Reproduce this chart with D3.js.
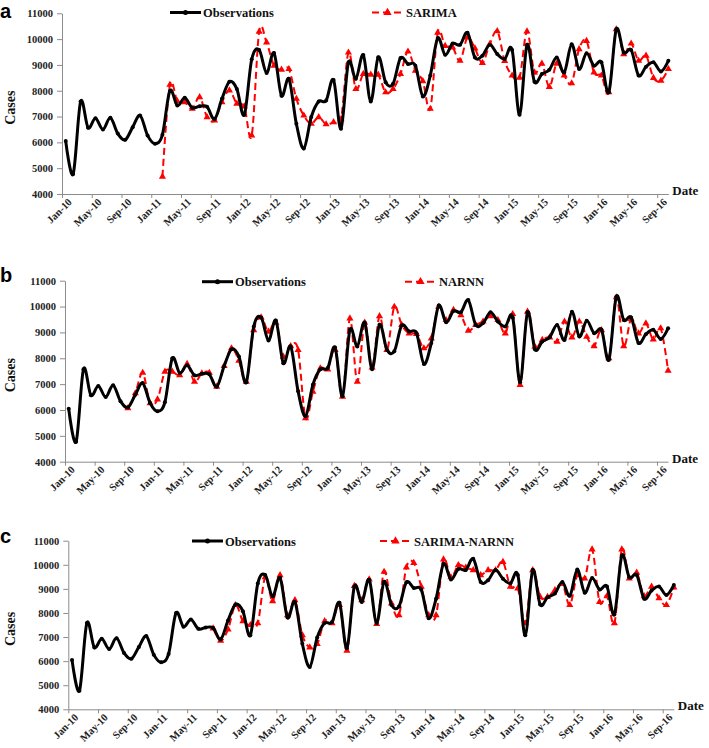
<!DOCTYPE html>
<html>
<head>
<meta charset="utf-8">
<script src="https://cdn.jsdelivr.net/npm/d3@7"></script>
<style>
  body { margin: 0; background: #fff; }
  svg { display: block; }
  .tick text { font-family: "Liberation Serif", "Times New Roman", serif; font-weight: bold; font-size: 10.5px; fill: #222; }
  .label-style { font-family: "Liberation Serif", "Times New Roman", serif; font-weight: bold; fill: #111; }
  .panel-letter { font-family: "Liberation Sans", Arial, sans-serif; font-weight: bold; font-size: 20px; fill: #000; }
</style>
</head>
<body>
<div id="chart"></div>
<script>
// month ticks (every 4 months)
const tickLabels = ['Jan-10', 'May-10', 'Sep-10', 'Jan-11', 'May-11', 'Sep-11', 'Jan-12', 'May-12', 'Sep-12',
  'Jan-13', 'May-13', 'Sep-13', 'Jan-14', 'May-14', 'Sep-14', 'Jan-15', 'May-15', 'Sep-15', 'Jan-16', 'May-16', 'Sep-16'];
const yTicks = [4000, 5000, 6000, 7000, 8000, 9000, 10000, 11000];

// monthly cases, Jan-10 .. Oct-16
const observations = [6050, 4770, 7580, 6570, 6930, 6500, 6955, 6340, 6100, 6590,
  7040, 6270, 5950, 6300, 8000, 7430, 7730, 7340, 7400, 7380,
  6900, 7690, 8350, 8070, 7070, 9220, 9580, 8690, 9460, 7810,
  8460, 6720, 5760, 6980, 7580, 7620, 8420, 6530, 9100, 8460,
  9380, 7580, 9300, 8330, 8270, 9270, 9040, 8970, 7780, 8590,
  10040, 9390, 9830, 9780, 10250, 9290, 9360, 9780, 9420, 9230,
  9580, 7070, 9780, 8350, 8650, 8810, 9290, 8710, 9800, 8840,
  9450, 8970, 9100, 7940, 10380, 9480, 9580, 8590, 8930, 9100,
  8750, 9160];

// SARIMA starts Feb-11
const sarimaStart = 13;
const sarima = [4670, 8230, 7600, 7560, 7300, 7750, 6980,
  6850, 7560, 8010, 7500, 7390, 6270, 10290, 9870, 8970, 8820,
  8840, 7690, 7040, 6720, 6980, 6700, 6780, 6900, 9480, 8070,
  8650, 8620, 8620, 7940, 8070, 8650, 9520, 8780, 8370, 7300,
  10250, 9740, 9680, 9160, 10060, 9640, 9080, 9810, 10310, 9150,
  8590, 8510, 10300, 8710, 9050, 8150, 9050, 8590, 8290, 9610,
  9930, 8710, 8590, 7940, 10380, 9420, 9830, 9160, 9360, 8500,
  8390, 8840];

// NARNN starts Sep-10
const narnnStart = 8;
const narnn = [6065, 6645,
  7440, 6260, 6410, 7480, 7480, 7350, 7780, 7090, 7420, 7440,
  6900, 7700, 8385, 7905, 7090, 9090, 9580, 9030, 9380, 8060,
  8470, 8320, 5680, 6710, 7610, 7570, 8320, 6510, 9540, 7090,
  9380, 7650, 9630, 8320, 9990, 9290, 8960, 8940, 8385, 8770,
  9990, 9480, 9870, 9670, 9070, 9290, 9420, 9630, 9480, 8960,
  9710, 6970, 9800, 8450, 8710, 8810, 8640, 9420, 8810, 9420,
  8830, 8470, 9090, 8000, 10360, 8470, 9510, 8960, 9350, 8730,
  9160, 7520];

// SARIMA-NARNN starts Aug-11
const hybridStart = 19;
const hybrid = [7360,
  6850, 7320, 8330, 7660, 7500, 7570, 9480, 8490, 9570, 7910,
  8530, 7080, 6570, 6710, 7660, 7570, 8330, 6430, 9120, 8530,
  9390, 7540, 9710, 8400, 7910, 9890, 10080, 9090, 7910, 7910,
  10220, 9480, 9990, 9880, 9780, 9570, 9780, 9780, 10120, 9090,
  9020, 7570, 9780, 8670, 8670, 8950, 9200, 8330, 9570, 9430,
  10640, 8460, 8700, 7570, 10640, 9430, 9670, 8700, 9090, 8610,
  8330, 9060];

const panels = [
  {letter: 'a', name: 'SARIMA', values: sarima, start: sarimaStart,
   left: 62, top: 13.3, bottom: 194, step: 7.44, letterY: 18, legendY: 12.5, obsLeg: 170, modLeg: 372},
  {letter: 'b', name: 'NARNN', values: narnn, start: narnnStart,
   left: 65, top: 280.7, bottom: 461.7, step: 7.40, letterY: 281.5, legendY: 281.7, obsLeg: 202, modLeg: 405},
  {letter: 'c', name: 'SARIMA-NARNN', values: hybrid, start: hybridStart,
   left: 68.3, top: 540.7, bottom: 709.3, step: 7.43, letterY: 542.5, legendY: 541, obsLeg: 192, modLeg: 380}
];

const svg = d3.select('#chart').append('svg')
    .attr('width', 709)
    .attr('height', 748);

panels.forEach(p => drawPanel(p));

function drawPanel(p) {
  const n = observations.length;
  const x = d3.scaleLinear()
      .domain([0, n - 0.5])
      .range([p.left, p.left + (n - 0.5) * p.step]);
  const y = d3.scaleLinear()
      .domain([4000, 11000])
      .range([p.bottom, p.top]);

  const g = svg.append('g');

  // Y Axis
  g.append('g')
      .attr('transform', 'translate(' + p.left + ',0)')
      .call(d3.axisLeft(y).tickValues(yTicks).tickFormat(d3.format('d'))
        .tickSize(5).tickPadding(4).tickSizeOuter(0))
      .call(a => a.selectAll('line, path').attr('stroke', '#8c8c8c'));

  // X Axis
  g.append('g')
      .attr('transform', 'translate(0,' + p.bottom + ')')
      .call(d3.axisBottom(x)
        .tickValues(d3.range(0, tickLabels.length * 4, 4))
        .tickFormat((d, i) => tickLabels[i])
        .tickSize(4).tickSizeOuter(0))
      .call(a => a.selectAll('line, path').attr('stroke', '#8c8c8c'))
      .selectAll('text')
        .style('text-anchor', 'end')
        .attr('x', 1)
        .attr('y', 8)
        .attr('dy', '.5em')
        .attr('transform', 'rotate(-45)');

  // axis titles
  g.append('text')
      .attr('class', 'label-style')
      .attr('x', x(n - 0.5) + 4)
      .attr('y', p.bottom + 1)
      .style('font-size', '13px')
      .text('Date');
  g.append('text')
      .attr('class', 'label-style')
      .attr('transform', 'translate(15,' + ((p.top + p.bottom) / 2 + 4) + ') rotate(-90)')
      .attr('text-anchor', 'middle')
      .style('font-size', '14px')
      .text('Cases');

  g.append('text')
      .attr('class', 'panel-letter')
      .attr('x', 0)
      .attr('y', p.letterY)
      .text(p.letter);

  const line = d3.line()
      .x(d => x(d.i + 0.5))
      .y(d => y(d.v))
      .curve(d3.curveCardinal.tension(0));

  const obs = observations.map((v, i) => ({i: i, v: v}));
  const model = p.values.map((v, k) => ({i: p.start + k, v: v}));

  // model (red dashed)
  g.append('path')
      .datum(model)
      .attr('fill', 'none')
      .attr('stroke', '#ff0000')
      .attr('stroke-width', 2)
      .attr('stroke-dasharray', '7,4')
      .attr('d', line);
  const tri = d3.symbol().type(d3.symbolTriangle).size(22);
  g.selectAll('.mk-model')
    .data(model)
    .enter().append('path')
      .attr('class', 'mk-model')
      .attr('fill', '#ff0000')
      .attr('transform', d => 'translate(' + x(d.i + 0.5) + ',' + y(d.v) + ')')
      .attr('d', tri);

  // observations (black)
  g.append('path')
      .datum(obs)
      .attr('fill', 'none')
      .attr('stroke', '#000')
      .attr('stroke-width', 3)
      .attr('stroke-linejoin', 'round')
      .attr('d', line);
  g.selectAll('.mk-obs')
    .data(obs)
    .enter().append('circle')
      .attr('class', 'mk-obs')
      .attr('cx', d => x(d.i + 0.5))
      .attr('cy', d => y(d.v))
      .attr('r', 2)
      .attr('fill', '#000');

  // legend
  const ly = p.legendY;
  g.append('line')
      .attr('x1', p.obsLeg).attr('x2', p.obsLeg + 31)
      .attr('y1', ly).attr('y2', ly)
      .attr('stroke', '#000').attr('stroke-width', 3);
  g.append('circle')
      .attr('cx', p.obsLeg + 15.5).attr('cy', ly).attr('r', 2.5).attr('fill', '#000');
  g.append('text')
      .attr('class', 'label-style')
      .attr('x', p.obsLeg + 33)
      .attr('y', ly + 4.5)
      .style('font-size', '12.5px')
      .text('Observations');

  g.append('line')
      .attr('x1', p.modLeg).attr('x2', p.modLeg + 31)
      .attr('y1', ly).attr('y2', ly)
      .attr('stroke', '#ff0000').attr('stroke-width', 2)
      .attr('stroke-dasharray', '7,4');
  g.append('path')
      .attr('fill', '#ff0000')
      .attr('transform', 'translate(' + (p.modLeg + 15.5) + ',' + ly + ')')
      .attr('d', d3.symbol().type(d3.symbolTriangle).size(30));
  g.append('text')
      .attr('class', 'label-style')
      .attr('x', p.modLeg + 34)
      .attr('y', ly + 4.5)
      .style('font-size', '12.5px')
      .text(p.name);
}
</script>
</body>
</html>
